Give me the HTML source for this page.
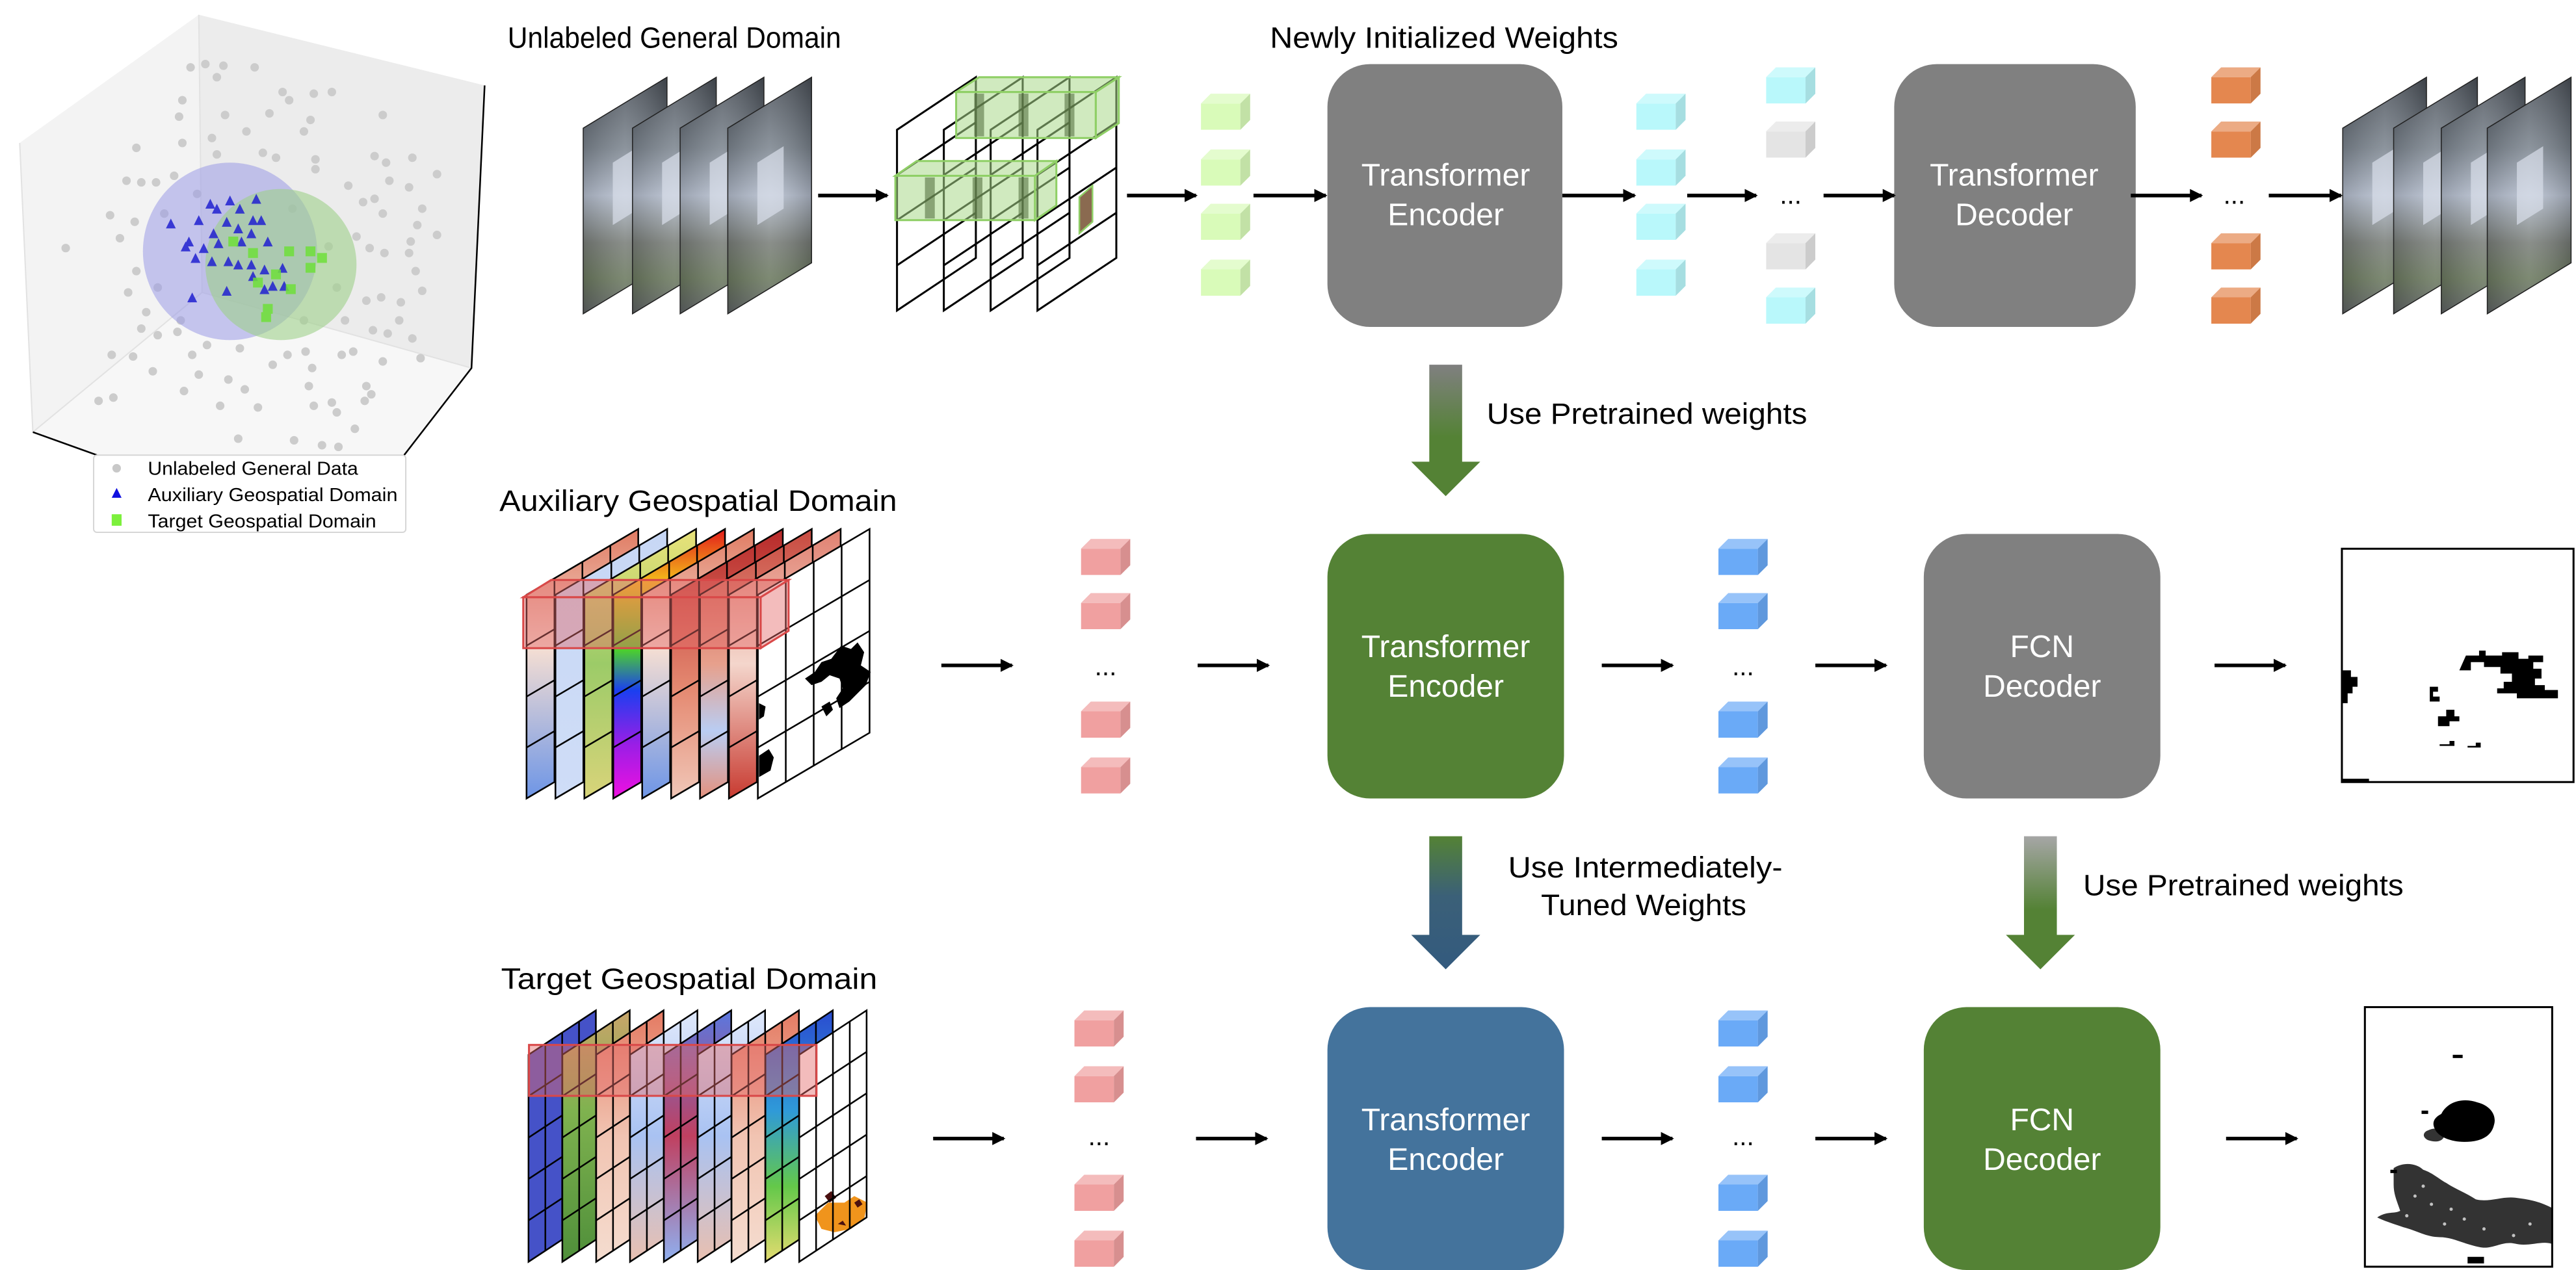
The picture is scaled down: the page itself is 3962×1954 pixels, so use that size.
<!DOCTYPE html>
<html><head><meta charset="utf-8"><style>
html,body{margin:0;padding:0;background:#fff;}
svg{display:block;}
text{font-family:"Liberation Sans",sans-serif;}
</style></head><body>
<svg width="3962" height="1954" viewBox="0 0 1568 773" preserveAspectRatio="none" xmlns="http://www.w3.org/2000/svg">
<defs>
<symbol id="cube" viewBox="0 0 30 22">
<polygon points="0,6 24,6 24,22 0,22" fill="currentColor"/>
<polygon points="0,6 6,0 30,0 24,6" fill="currentColor"/>
<polygon points="0,6 6,0 30,0 24,6" fill="#fff" opacity="0.3"/>
<polygon points="24,6 30,0 30,16 24,22" fill="currentColor"/>
<polygon points="24,6 30,0 30,16 24,22" fill="#000" opacity="0.1"/>
</symbol>
<g id="g2" fill="none" stroke="#000" stroke-width="1">
<polygon points="0,40 68,0 68,124 0,164"/>
<line x1="17" y1="30" x2="17" y2="154"/><line x1="34" y1="20" x2="34" y2="144"/><line x1="51" y1="10" x2="51" y2="134"/>
<line x1="0" y1="71" x2="68" y2="31"/><line x1="0" y1="102" x2="68" y2="62"/><line x1="0" y1="133" x2="68" y2="93"/>
</g>
<g id="g3" fill="none" stroke="#000" stroke-width="1">
<polygon points="0,27 41,0 41,126 0,153"/>
<line x1="10.25" y1="20.25" x2="10.25" y2="146.25"/><line x1="20.5" y1="13.5" x2="20.5" y2="139.5"/><line x1="30.75" y1="6.75" x2="30.75" y2="132.75"/>
<line x1="0" y1="52.2" x2="41" y2="25.2"/><line x1="0" y1="77.4" x2="41" y2="50.4"/><line x1="0" y1="102.6" x2="41" y2="75.6"/><line x1="0" y1="127.8" x2="41" y2="100.8"/>
</g>
<g id="g1" fill="none" stroke="#000" stroke-width="1.2">
<polygon points="0,32 48,0 48,110 0,142"/>
<line x1="0" y1="59.5" x2="48" y2="27.5"/><line x1="0" y1="87" x2="48" y2="55"/><line x1="0" y1="114.5" x2="48" y2="82.5"/>
</g>
<linearGradient id="vid" x1="0" y1="0" x2="0" y2="1"><stop offset="0" stop-color="#4a5058"/><stop offset="0.3" stop-color="#7d8690"/><stop offset="0.5" stop-color="#b6bfcf"/><stop offset="0.7" stop-color="#7a7f7a"/><stop offset="0.85" stop-color="#6c7a60"/><stop offset="1" stop-color="#5e6264"/></linearGradient>
<linearGradient id="vid2" x1="0" y1="0" x2="1" y2="0"><stop offset="0" stop-color="#000" stop-opacity="0.15"/><stop offset="0.5" stop-color="#fff" stop-opacity="0.12"/><stop offset="1" stop-color="#000" stop-opacity="0.2"/></linearGradient>
<linearGradient id="cw" x1="0" y1="0" x2="0" y2="1"><stop offset="0" stop-color="#e07b62"/><stop offset="0.45" stop-color="#f3ddd3"/><stop offset="1" stop-color="#6d95e6"/></linearGradient>
<linearGradient id="lb" x1="0" y1="0" x2="0" y2="1"><stop offset="0" stop-color="#c7d7f5"/><stop offset="1" stop-color="#cfddf7"/></linearGradient>
<linearGradient id="ndvi" x1="0" y1="0" x2="0" y2="1"><stop offset="0" stop-color="#e9e27a"/><stop offset="0.5" stop-color="#9ccb68"/><stop offset="1" stop-color="#d9d47a"/></linearGradient>
<linearGradient id="rb" x1="0" y1="0" x2="0" y2="1"><stop offset="0" stop-color="#e21b1b"/><stop offset="0.2" stop-color="#f5c21a"/><stop offset="0.45" stop-color="#4ccf2e"/><stop offset="0.6" stop-color="#1b3ff0"/><stop offset="0.8" stop-color="#9a1ee6"/><stop offset="1" stop-color="#f010e0"/></linearGradient>
<linearGradient id="rd" x1="0" y1="0" x2="0" y2="1"><stop offset="0" stop-color="#b82a2a"/><stop offset="0.6" stop-color="#e58a72"/><stop offset="1" stop-color="#f0c7b8"/></linearGradient>
<linearGradient id="rbm" x1="0" y1="0" x2="0" y2="1"><stop offset="0" stop-color="#c84a40"/><stop offset="0.5" stop-color="#e7a08c"/><stop offset="0.75" stop-color="#b9cdf3"/><stop offset="1" stop-color="#e4907c"/></linearGradient>
<linearGradient id="rw" x1="0" y1="0" x2="0" y2="1"><stop offset="0" stop-color="#e08070"/><stop offset="0.5" stop-color="#f4d6cc"/><stop offset="1" stop-color="#c83a30"/></linearGradient>
<linearGradient id="veg" x1="0" y1="0" x2="0" y2="1"><stop offset="0" stop-color="#c9a46a"/><stop offset="0.4" stop-color="#7fb24f"/><stop offset="1" stop-color="#4f8f3a"/></linearGradient>
<linearGradient id="t3" x1="0" y1="0" x2="0" y2="1"><stop offset="0" stop-color="#e47a62"/><stop offset="0.5" stop-color="#f1c4b2"/><stop offset="1" stop-color="#f5ddd0"/></linearGradient>
<linearGradient id="t4" x1="0" y1="0" x2="0" y2="1"><stop offset="0" stop-color="#dfe8fb"/><stop offset="0.5" stop-color="#a9c2f2"/><stop offset="1" stop-color="#e9c0b0"/></linearGradient>
<linearGradient id="t5" x1="0" y1="0" x2="0" y2="1"><stop offset="0" stop-color="#5a78e0"/><stop offset="0.5" stop-color="#c04060"/><stop offset="1" stop-color="#8fb0f0"/></linearGradient>
<linearGradient id="dem" x1="0" y1="0" x2="0" y2="1"><stop offset="0" stop-color="#2a4cd0"/><stop offset="0.4" stop-color="#2f9ad8"/><stop offset="0.7" stop-color="#64c84a"/><stop offset="1" stop-color="#e4dc70"/></linearGradient>
<linearGradient id="a1" x1="0" y1="0" x2="0" y2="1"><stop offset="0" stop-color="#808080"/><stop offset="0.55" stop-color="#548235"/><stop offset="1" stop-color="#548235"/></linearGradient>
<linearGradient id="a2" x1="0" y1="0" x2="0" y2="1"><stop offset="0" stop-color="#548235"/><stop offset="0.45" stop-color="#3b6078"/><stop offset="1" stop-color="#335a7e"/></linearGradient>
<linearGradient id="a3" x1="0" y1="0" x2="0" y2="1"><stop offset="0" stop-color="#a6a6a6"/><stop offset="0.55" stop-color="#548235"/><stop offset="1" stop-color="#548235"/></linearGradient>
<marker id="ah" markerWidth="8" markerHeight="8" refX="7" refY="4" orient="auto" markerUnits="userSpaceOnUse"><polygon points="0,0 8,4 0,8" fill="#000"/></marker>
<g id="frame">
<polygon points="0,31 51,0 51,113 0,144" fill="url(#vid)"/>
<polygon points="0,31 51,0 51,113 0,144" fill="url(#vid2)"/>
<polygon points="18,52 34,42 34,80 18,90" fill="#d8deea" opacity="0.7"/>
<polygon points="0,31 51,0 51,113 0,144" fill="none" stroke="#222" stroke-width="0.6"/>
</g>
</defs>

<!-- 3D plot -->
<polygon points="12,87 121,9 295,52 287,224 246,277 59,277 20,263" fill="#f3f3f3"/>
<polygon points="121,9 295,52 287,224 123,178" fill="#ececec"/>
<polygon points="20,263 123,178 287,224 246,277 59,277" fill="#f7f7f7"/>
<g stroke="#e2e2e2" stroke-width="0.8" fill="none"><line x1="121" y1="9" x2="123" y2="178"/><line x1="123" y1="178" x2="20" y2="263"/><line x1="123" y1="178" x2="287" y2="224"/><line x1="12" y1="87" x2="20" y2="263"/></g>
<g stroke="#000" stroke-width="1" fill="none"><polyline points="295,52 287,224 246,277"/><line x1="20" y1="263" x2="59" y2="277"/></g>
<g fill="#cccccc">
<circle cx="116" cy="41" r="2.6"/><circle cx="125" cy="39" r="2.6"/><circle cx="136" cy="40" r="2.6"/><circle cx="155" cy="41" r="2.6"/><circle cx="132" cy="47" r="2.6"/><circle cx="172" cy="56" r="2.6"/><circle cx="191" cy="57" r="2.6"/><circle cx="202" cy="56" r="2.6"/><circle cx="111" cy="61" r="2.6"/><circle cx="176" cy="61" r="2.6"/><circle cx="109" cy="71" r="2.6"/><circle cx="137" cy="70" r="2.6"/><circle cx="164" cy="69" r="2.6"/><circle cx="189" cy="73" r="2.6"/><circle cx="233" cy="70" r="2.6"/><circle cx="150" cy="80" r="2.6"/><circle cx="185" cy="80" r="2.6"/><circle cx="129" cy="84" r="2.6"/><circle cx="83" cy="90" r="2.6"/><circle cx="111" cy="87" r="2.6"/><circle cx="132" cy="94" r="2.6"/><circle cx="160" cy="93" r="2.6"/><circle cx="168" cy="96" r="2.6"/><circle cx="192" cy="97" r="2.6"/><circle cx="228" cy="95" r="2.6"/><circle cx="235" cy="99" r="2.6"/><circle cx="251" cy="96" r="2.6"/><circle cx="192" cy="103" r="2.6"/><circle cx="266" cy="106" r="2.6"/><circle cx="77" cy="110" r="2.6"/><circle cx="86" cy="111" r="2.6"/><circle cx="95" cy="111" r="2.6"/><circle cx="106" cy="107" r="2.6"/><circle cx="237" cy="110" r="2.6"/><circle cx="249" cy="114" r="2.6"/><circle cx="212" cy="113" r="2.6"/><circle cx="228" cy="121" r="2.6"/><circle cx="221" cy="123" r="2.6"/><circle cx="257" cy="127" r="2.6"/><circle cx="233" cy="130" r="2.6"/><circle cx="67" cy="131" r="2.6"/><circle cx="82" cy="135" r="2.6"/><circle cx="254" cy="137" r="2.6"/><circle cx="40" cy="151" r="2.6"/><circle cx="73" cy="145" r="2.6"/><circle cx="266" cy="143" r="2.6"/><circle cx="217" cy="144" r="2.6"/><circle cx="225" cy="151" r="2.6"/><circle cx="234" cy="154" r="2.6"/><circle cx="250" cy="147" r="2.6"/><circle cx="249" cy="154" r="2.6"/><circle cx="83" cy="165" r="2.6"/><circle cx="253" cy="165" r="2.6"/><circle cx="78" cy="178" r="2.6"/><circle cx="257" cy="177" r="2.6"/><circle cx="89" cy="190" r="2.6"/><circle cx="244" cy="184" r="2.6"/><circle cx="232" cy="181" r="2.6"/><circle cx="223" cy="183" r="2.6"/><circle cx="243" cy="195" r="2.6"/><circle cx="210" cy="195" r="2.6"/><circle cx="86" cy="200" r="2.6"/><circle cx="96" cy="204" r="2.6"/><circle cx="108" cy="202" r="2.6"/><circle cx="126" cy="210" r="2.6"/><circle cx="146" cy="212" r="2.6"/><circle cx="117" cy="216" r="2.6"/><circle cx="175" cy="216" r="2.6"/><circle cx="186" cy="214" r="2.6"/><circle cx="190" cy="224" r="2.6"/><circle cx="166" cy="222" r="2.6"/><circle cx="208" cy="216" r="2.6"/><circle cx="215" cy="214" r="2.6"/><circle cx="233" cy="220" r="2.6"/><circle cx="256" cy="218" r="2.6"/><circle cx="227" cy="201" r="2.6"/><circle cx="236" cy="203" r="2.6"/><circle cx="251" cy="206" r="2.6"/><circle cx="68" cy="216" r="2.6"/><circle cx="81" cy="217" r="2.6"/><circle cx="93" cy="226" r="2.6"/><circle cx="121" cy="228" r="2.6"/><circle cx="139" cy="231" r="2.6"/><circle cx="149" cy="237" r="2.6"/><circle cx="112" cy="238" r="2.6"/><circle cx="188" cy="235" r="2.6"/><circle cx="223" cy="235" r="2.6"/><circle cx="226" cy="240" r="2.6"/><circle cx="222" cy="244" r="2.6"/><circle cx="60" cy="244" r="2.6"/><circle cx="69" cy="242" r="2.6"/><circle cx="134" cy="247" r="2.6"/><circle cx="157" cy="248" r="2.6"/><circle cx="191" cy="247" r="2.6"/><circle cx="202" cy="245" r="2.6"/><circle cx="205" cy="251" r="2.6"/><circle cx="216" cy="261" r="2.6"/><circle cx="145" cy="267" r="2.6"/><circle cx="179" cy="268" r="2.6"/><circle cx="196" cy="271" r="2.6"/><circle cx="206" cy="272" r="2.6"/>
<circle cx="100" cy="130" r="2.6"/><circle cx="120" cy="118" r="2.6"/><circle cx="178" cy="127" r="2.6"/><circle cx="200" cy="150" r="2.6"/><circle cx="96" cy="175" r="2.6"/><circle cx="110" cy="195" r="2.6"/><circle cx="205" cy="175" r="2.6"/><circle cx="185" cy="195" r="2.6"/>
</g>
<ellipse cx="140" cy="153" rx="53" ry="54" fill="#9a9ae6" opacity="0.55"/>
<ellipse cx="171" cy="161" rx="46" ry="46" fill="#9fd08a" opacity="0.6"/>
<g fill="#2020d0" opacity="0.85">
<path d="M104,133 l3,6 h-6z M121,131 l3,6 h-6z M128,121 l3,6 h-6z M132,124 l3,6 h-6z M140,119 l3,6 h-6z M156,118 l3,6 h-6z M146,124 l3,6 h-6z M138,132 l3,6 h-6z M154,131 l3,6 h-6z M159,131 l3,6 h-6z M145,136 l3,6 h-6z M130,139 l3,6 h-6z M115,144 l3,6 h-6z M113,147 l3,6 h-6z M124,148 l3,6 h-6z M133,145 l3,6 h-6z M147,144 l3,6 h-6z M153,139 l3,6 h-6z M163,144 l3,6 h-6z M119,154 l3,6 h-6z M129,156 l3,6 h-6z M139,156 l3,6 h-6z M145,158 l3,6 h-6z M153,158 l3,6 h-6z M161,161 l3,6 h-6z M172,160 l3,6 h-6z M154,165 l3,6 h-6z M166,171 l3,6 h-6z M161,173 l3,6 h-6z M173,171 l3,6 h-6z M138,174 l3,6 h-6z M117,178 l3,6 h-6z"/>
</g>
<g fill="#6fe03a" opacity="0.85">
<rect x="139" y="144" width="6" height="6"/><rect x="151" y="151" width="6" height="6"/><rect x="186" y="150" width="6" height="6"/><rect x="193" y="154" width="6" height="6"/><rect x="186" y="160" width="6" height="6"/><rect x="154" y="169" width="6" height="6"/><rect x="165" y="164" width="6" height="6"/><rect x="174" y="173" width="6" height="6"/><rect x="160" y="185" width="6" height="6"/><rect x="159" y="190" width="6" height="6"/><rect x="173" y="150" width="6" height="6"/>
</g>
<rect x="57" y="277" width="190" height="47" rx="2" fill="#fff" fill-opacity="0.85" stroke="#d6d6d6" stroke-width="0.8"/>
<circle cx="71" cy="285" r="2.6" fill="#c8c8c8"/>
<polygon points="71,297 74,303 68,303" fill="#1010e0"/>
<rect x="68" y="313" width="6" height="7" fill="#7cf03c"/>
<text x="90" y="289" font-size="11.5" textLength="128" lengthAdjust="spacingAndGlyphs">Unlabeled General Data</text>
<text x="90" y="305" font-size="11.5" textLength="152" lengthAdjust="spacingAndGlyphs">Auxiliary Geospatial Domain</text>
<text x="90" y="321" font-size="11.5" textLength="139" lengthAdjust="spacingAndGlyphs">Target Geospatial Domain</text>

<!-- titles -->
<text x="309" y="29" font-size="18" textLength="203" lengthAdjust="spacingAndGlyphs">Unlabeled General Domain</text>
<text x="773" y="29" font-size="18" textLength="212" lengthAdjust="spacingAndGlyphs">Newly Initialized Weights</text>
<text x="304" y="311" font-size="18" textLength="242" lengthAdjust="spacingAndGlyphs">Auxiliary Geospatial Domain</text>
<text x="305" y="602" font-size="18" textLength="229" lengthAdjust="spacingAndGlyphs">Target Geospatial Domain</text>

<!-- top row input frames -->
<use href="#frame" x="355" y="47"/><use href="#frame" x="385" y="47"/><use href="#frame" x="414" y="47"/><use href="#frame" x="443" y="47"/>
<!-- grid cube -->
<use href="#g1" x="546" y="47"/><use href="#g1" x="574.5" y="47"/><use href="#g1" x="603" y="47"/><use href="#g1" x="631.5" y="47"/>
<g fill="#a9d88a" fill-opacity="0.55" stroke="#8fcf66" stroke-width="1.2">
<polygon points="582,56 596,47 681,47 667,56"/>
<rect x="582" y="56" width="85" height="28"/>
<polygon points="667,56 681,47 681,75 667,84"/>
<polygon points="545,107 558,98 643,98 630,107"/>
<rect x="545" y="107" width="85" height="27"/>
<polygon points="630,107 643,98 643,125 630,134"/>
</g>
<g fill="#4f6a3a" opacity="0.55"><rect x="593" y="57" width="6" height="26"/><rect x="620" y="57" width="6" height="26"/><rect x="648" y="57" width="6" height="26"/><rect x="563" y="108" width="6" height="25"/><rect x="592" y="108" width="6" height="25"/><rect x="620" y="108" width="6" height="25"/></g>
<polygon points="657,120 665,113 665,135 657,142" fill="#8a6a50" stroke="#8fcf66"/>

<!-- top cubes -->
<g style="color:#d9fbb9"><use href="#cube" x="731" y="57" width="30" height="22"/><use href="#cube" x="731" y="91" width="30" height="22"/><use href="#cube" x="731" y="124" width="30" height="22"/><use href="#cube" x="731" y="158" width="30" height="22"/></g>
<g style="color:#b9f8fb"><use href="#cube" x="996" y="57" width="30" height="22"/><use href="#cube" x="996" y="91" width="30" height="22"/><use href="#cube" x="996" y="124" width="30" height="22"/><use href="#cube" x="996" y="158" width="30" height="22"/>
<use href="#cube" x="1075" y="41" width="30" height="22"/><use href="#cube" x="1075" y="175" width="30" height="22"/></g>
<g style="color:#e4e4e4"><use href="#cube" x="1075" y="74" width="30" height="22"/><use href="#cube" x="1075" y="142" width="30" height="22"/></g>
<g style="color:#e4874f"><use href="#cube" x="1346" y="41" width="30" height="22"/><use href="#cube" x="1346" y="74" width="30" height="22"/><use href="#cube" x="1346" y="142" width="30" height="22"/><use href="#cube" x="1346" y="175" width="30" height="22"/></g>
<text x="1090" y="124" font-size="16" text-anchor="middle">...</text>
<text x="1360" y="124" font-size="16" text-anchor="middle">...</text>

<!-- top boxes -->
<rect x="808" y="39" width="143" height="160" rx="26" fill="#808080"/>
<rect x="1153" y="39" width="147" height="160" rx="26" fill="#808080"/>
<g fill="#fff" font-size="19" text-anchor="middle">
<text x="880" y="113">Transformer</text><text x="880" y="137">Encoder</text>
<text x="1226" y="113">Transformer</text><text x="1226" y="137">Decoder</text>
</g>

<!-- output frames -->
<use href="#frame" x="1426" y="47"/><use href="#frame" x="1457" y="47"/><use href="#frame" x="1486" y="47"/><use href="#frame" x="1514" y="47"/>

<!-- arrows -->
<g stroke="#000" stroke-width="2.2" marker-end="url(#ah)">
<line x1="498" y1="119" x2="540" y2="119"/><line x1="686" y1="119" x2="728" y2="119"/><line x1="763" y1="119" x2="807" y2="119"/><line x1="951" y1="119" x2="995" y2="119"/><line x1="1027" y1="119" x2="1069" y2="119"/><line x1="1110" y1="119" x2="1153" y2="119"/><line x1="1297" y1="119" x2="1340" y2="119"/><line x1="1381" y1="119" x2="1425" y2="119"/>
<line x1="573" y1="405" x2="616" y2="405"/><line x1="729" y1="405" x2="772" y2="405"/><line x1="975" y1="405" x2="1018" y2="405"/><line x1="1105" y1="405" x2="1148" y2="405"/><line x1="1348" y1="405" x2="1391" y2="405"/>
<line x1="568" y1="693" x2="611" y2="693"/><line x1="728" y1="693" x2="771" y2="693"/><line x1="975" y1="693" x2="1018" y2="693"/><line x1="1105" y1="693" x2="1148" y2="693"/><line x1="1355" y1="693" x2="1398" y2="693"/>
</g>

<!-- down arrows -->
<path d="M870,222 H890 V281 H901 L880,302 L859,281 H870 Z" fill="url(#a1)"/>
<path d="M870,509 H890 V569 H901 L880,590 L859,569 H870 Z" fill="url(#a2)"/>
<path d="M1232,509 H1252 V569 H1263 L1242,590 L1221,569 H1232 Z" fill="url(#a3)"/>
<text x="905" y="258" font-size="18" textLength="195" lengthAdjust="spacingAndGlyphs">Use Pretrained weights</text>
<text x="918" y="534" font-size="18" textLength="167" lengthAdjust="spacingAndGlyphs">Use Intermediately-</text>
<text x="938" y="557" font-size="18" textLength="125" lengthAdjust="spacingAndGlyphs">Tuned Weights</text>
<text x="1268" y="545" font-size="18" textLength="195" lengthAdjust="spacingAndGlyphs">Use Pretrained weights</text>

<!-- row 2 stack -->
<polygon points="320.5,362 388.5,322 388.5,446 320.5,486" fill="url(#cw)"/><use href="#g2" x="320.5" y="322"/>
<polygon points="338.1,362 406.1,322 406.1,446 338.1,486" fill="url(#lb)"/><use href="#g2" x="338.1" y="322"/>
<polygon points="355.7,362 423.7,322 423.7,446 355.7,486" fill="url(#ndvi)"/><use href="#g2" x="355.7" y="322"/>
<polygon points="373.3,362 441.3,322 441.3,446 373.3,486" fill="url(#rb)"/><use href="#g2" x="373.3" y="322"/>
<polygon points="390.9,362 458.9,322 458.9,446 390.9,486" fill="url(#cw)"/><use href="#g2" x="390.9" y="322"/>
<polygon points="408.5,362 476.5,322 476.5,446 408.5,486" fill="url(#rd)"/><use href="#g2" x="408.5" y="322"/>
<polygon points="426.1,362 494.1,322 494.1,446 426.1,486" fill="url(#rbm)"/><use href="#g2" x="426.1" y="322"/>
<polygon points="443.7,362 511.7,322 511.7,446 443.7,486" fill="url(#rw)"/><use href="#g2" x="443.7" y="322"/>
<polygon points="461.3,362 529.3,322 529.3,446 461.3,486" fill="#fff"/>
<g fill="#000"><path d="M490,413 l6,-4 4,-6 6,-2 6,-8 6,2 4,-4 4,6 -2,8 6,4 -3,8 -6,6 -4,4 -6,4 -2,-6 4,-6 -2,-6 -6,-2 -5,4 -6,2z"/><path d="M500,430 l5,-3 2,5 -4,4z"/><path d="M462,428 l4,2 -1,6 -3,2z"/><path d="M462,460 l6,-4 3,5 -2,8 -7,4z"/></g>
<use href="#g2" x="461.3" y="322"/>
<g fill="#e56a6a" fill-opacity="0.45" stroke="#d94848" stroke-width="1.2">
<polygon points="318.5,363.5 335.5,353 480,353 463,363.5"/>
<rect x="318.5" y="363.5" width="144.5" height="31"/>
<polygon points="463,363.5 480,353 480,384 463,394.5"/>
</g>

<!-- row 3 stack -->
<polygon points="321.7,642 362.7,615 362.7,741 321.7,768" fill="#4552c8"/><use href="#g3" x="321.7" y="615"/>
<polygon points="342.3,642 383.3,615 383.3,741 342.3,768" fill="url(#veg)"/><use href="#g3" x="342.3" y="615"/>
<polygon points="362.9,642 403.9,615 403.9,741 362.9,768" fill="url(#t3)"/><use href="#g3" x="362.9" y="615"/>
<polygon points="383.5,642 424.5,615 424.5,741 383.5,768" fill="url(#t4)"/><use href="#g3" x="383.5" y="615"/>
<polygon points="404.1,642 445.1,615 445.1,741 404.1,768" fill="url(#t5)"/><use href="#g3" x="404.1" y="615"/>
<polygon points="424.7,642 465.7,615 465.7,741 424.7,768" fill="url(#t4)"/><use href="#g3" x="424.7" y="615"/>
<polygon points="445.3,642 486.3,615 486.3,741 445.3,768" fill="url(#t3)"/><use href="#g3" x="445.3" y="615"/>
<polygon points="465.9,642 506.9,615 506.9,741 465.9,768" fill="url(#dem)"/><use href="#g3" x="465.9" y="615"/>
<polygon points="486.5,642 527.5,615 527.5,741 486.5,768" fill="#fff"/>
<g><path d="M496,740 l8,-8 10,0 6,-4 8,4 -2,10 -8,6 -10,2 -8,-2z" fill="#f0941c"/><path d="M502,728 l4,-3 3,4 -4,3z M520,732 l3,-2 2,3 -3,2z M510,745 l3,-2 2,3z" fill="#4a1010"/></g>
<use href="#g3" x="486.5" y="615"/>
<g fill="#e56a6a" fill-opacity="0.45" stroke="#d94848" stroke-width="1.2">
<rect x="322" y="636" width="175" height="31"/>
</g>

<!-- row 2/3 cubes -->
<g style="color:#f0a0a0">
<use href="#cube" x="658" y="328" width="30" height="22"/><use href="#cube" x="658" y="361" width="30" height="22"/><use href="#cube" x="658" y="427" width="30" height="22"/><use href="#cube" x="658" y="461" width="30" height="22"/>
<use href="#cube" x="654" y="615" width="30" height="22"/><use href="#cube" x="654" y="649" width="30" height="22"/><use href="#cube" x="654" y="715" width="30" height="22"/><use href="#cube" x="654" y="749" width="30" height="22"/>
</g>
<g style="color:#6aaaf7">
<use href="#cube" x="1046" y="328" width="30" height="22"/><use href="#cube" x="1046" y="361" width="30" height="22"/><use href="#cube" x="1046" y="427" width="30" height="22"/><use href="#cube" x="1046" y="461" width="30" height="22"/>
<use href="#cube" x="1046" y="615" width="30" height="22"/><use href="#cube" x="1046" y="649" width="30" height="22"/><use href="#cube" x="1046" y="715" width="30" height="22"/><use href="#cube" x="1046" y="749" width="30" height="22"/>
</g>
<g font-size="16" text-anchor="middle">
<text x="673" y="411">...</text><text x="669" y="697">...</text><text x="1061" y="411">...</text><text x="1061" y="697">...</text>
</g>

<!-- row 2/3 boxes -->
<rect x="808" y="325" width="144" height="161" rx="26" fill="#548235"/>
<rect x="1171" y="325" width="144" height="161" rx="26" fill="#808080"/>
<rect x="808" y="613" width="144" height="160" rx="26" fill="#44739c"/>
<rect x="1171" y="613" width="144" height="160" rx="26" fill="#548235"/>
<g fill="#fff" font-size="19" text-anchor="middle">
<text x="880" y="400">Transformer</text><text x="880" y="424">Encoder</text>
<text x="1243" y="400">FCN</text><text x="1243" y="424">Decoder</text>
<text x="880" y="688">Transformer</text><text x="880" y="712">Encoder</text>
<text x="1243" y="688">FCN</text><text x="1243" y="712">Decoder</text>
</g>

<!-- output maps -->
<rect x="1425.5" y="334" width="141" height="142" fill="#fff" stroke="#000" stroke-width="1.2"/>
<g fill="#000">
<path d="M1426,408 h5 v4 h4 v6 h-3 v4 h-3 v6 h-3z"/>
<path d="M1501,399 h8 v-3 h4 v3 h10 v-2 h10 v4 h6 v-2 h9 v4 h-6 v4 h5 v6 h-4 v4 h6 v3 h8 v5 h-25 v-3 h-12 v-3 h4 v-4 h5 v-5 h-7 v-4 h-10 v-3 h-8 v5 h-7z"/>
<path d="M1479,418 h5 v3 h-3 v3 h4 v3 h-6z M1484,436 h5 v-4 h5 v4 h3 v3 h-6 v3 h-7z M1485,453 h6 v-2 h3 v3 h-9z M1502,454 h5 v-2 h3 v3 h-8z"/>
<rect x="1426" y="474" width="16" height="1.5"/>
</g>
<rect x="1439.5" y="613" width="114" height="158" fill="#fff" stroke="#000" stroke-width="1.2"/>
<g fill="#000">
<path d="M1486,678 c4,-8 14,-10 22,-7 c8,2 12,8 10,14 c-2,8 -10,10 -18,10 c-8,0 -16,-3 -18,-8 c-2,-4 0,-7 4,-9z"/>
<path d="M1478,688 c4,-2 8,-1 10,2 c0,4 -4,6 -10,4 c-4,-2 -3,-5 0,-6z" opacity="0.8"/>
<path d="M1457,711 c6,-4 14,-3 18,1 c6,2 10,6 14,8 c6,4 12,6 18,10 c8,2 16,-2 24,-1 c8,1 14,2 22,6 v22 c-6,-2 -14,2 -22,0 c-8,-2 -14,4 -22,2 c-10,-2 -16,-6 -24,-6 c-8,0 -14,-4 -22,-6 c-6,-2 -12,-4 -16,-6 c6,-4 10,-2 14,-4 c-2,-6 -4,-10 -4,-16z" opacity="0.8"/>
<path d="M1474,676 h4 v2 h-4z M1493,642 h6 v2 h-6z M1491,691 h4 v2 h-4z M1455,712 h4 v2 h-4z M1502,765 h10 v4 h-10z"/>
</g>
<g fill="#fff" opacity="0.7"><circle cx="1470" cy="728" r="1"/><circle cx="1480" cy="733" r="1"/><circle cx="1492" cy="736" r="1"/><circle cx="1500" cy="742" r="1"/><circle cx="1512" cy="748" r="1"/><circle cx="1465" cy="740" r="1"/><circle cx="1488" cy="745" r="1"/><circle cx="1530" cy="752" r="1"/><circle cx="1540" cy="745" r="1"/><circle cx="1475" cy="722" r="1"/></g>
</svg>
</body></html>
